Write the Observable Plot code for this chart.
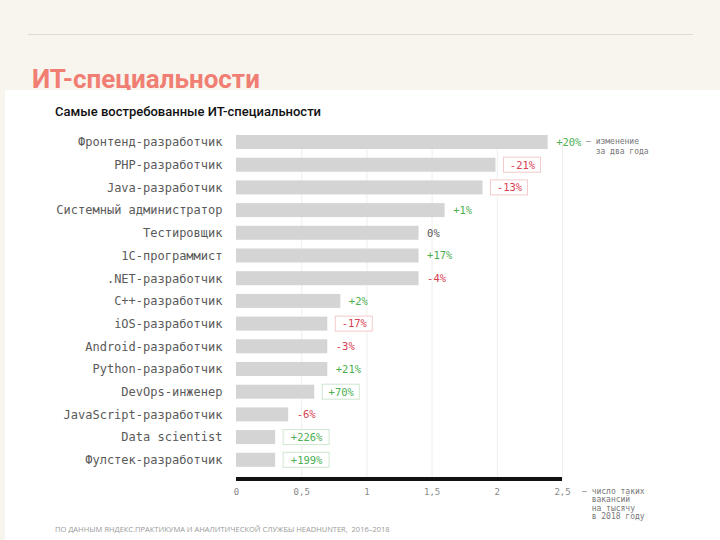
<!DOCTYPE html>
<html><head><meta charset="utf-8">
<script src="https://cdn.jsdelivr.net/npm/d3@7"></script>
<script src="https://cdn.jsdelivr.net/npm/@observablehq/plot@0.6"></script>
<style>
body{margin:0;}
#page{position:relative;width:720px;height:540px;background:#f8f5ef;overflow:hidden;font-family:Roboto, sans-serif;}
#rule{position:absolute;left:28px;top:34px;width:665px;height:1px;background:#dedbd5;}
#title{position:absolute;left:32px;top:66px;font:700 26px/26px Roboto;color:#f07e73;white-space:nowrap;}
#panel{position:absolute;left:5px;top:90px;width:715px;height:450px;background:#fff;}
#chart{position:absolute;left:0;top:90px;}
#subtitle{position:absolute;left:55px;top:105px;font:500 13px/13px Roboto;color:#111;white-space:nowrap;}
.note{position:absolute;font:8px "DejaVu Sans Mono", monospace;color:#777;white-space:pre;}
#footer{position:absolute;left:55px;top:524px;font:7.5px/10px "Open Sans";color:#999;white-space:nowrap;}
</style>
</head><body>
<div id="page">
  <div id="rule"></div>
  <div id="title">ИТ-специальности</div>
  <div id="panel"></div>
  <div id="chart"></div>
  <div id="subtitle">Самые востребованные ИТ-специальности</div>
  <div class="note" style="left:586px;top:137px;line-height:10px;">– изменение
  за два года</div>
  <div class="note" style="left:582px;top:488px;line-height:8.3px;">– число таких
  вакансий
  на тысячу
  в 2018 году</div>
  <div id="footer">ПО ДАННЫМ ЯНДЕКС.ПРАКТИКУМА И АНАЛИТИЧЕСКОЙ СЛУЖБЫ HEADHUNTER,&nbsp; 2016–2018</div>
</div>
<script>
const names = ["Фронтенд-разработчик","PHP-разработчик","Java-разработчик","Системный администратор","Тестировщик","1С-программист",".NET-разработчик","C++-разработчик","iOS-разработчик","Android-разработчик","Python-разработчик","DevOps-инженер","JavaScript-разработчик","Data scientist","Фулстек-разработчик"];
const values = [2.39, 1.99, 1.89, 1.6, 1.4, 1.4, 1.4, 0.8, 0.7, 0.7, 0.7, 0.6, 0.4, 0.3, 0.3];
const changes = [20, -21, -13, 1, 0, 17, -4, 2, -17, -3, 21, 70, -6, 226, 199];
const boxedNames = ["PHP-разработчик","Java-разработчик","iOS-разработчик","DevOps-инженер","Data scientist","Фулстек-разработчик"];
const xTicks = [0, 0.5, 1, 1.5, 2, 2.5];
const gridTicks = [0.5, 1, 1.5, 2, 2.5];
const axisSpan = [{x1: 0, x2: 2.5}];

const rows = names.map((name, i) => ({name, value: values[i], change: changes[i], boxed: boxedNames.includes(name)}));
const fmt = d => (d > 0 ? "+" : "") + d + "%";
const label = d => fmt(d.change);
const col = d => d.change > 0 ? "#4caf50" : d.change < 0 ? "#d9404f" : "#555555";
const boxCol = d => d.change > 0 ? "#cfe6cf" : "#f3caca";
const mono = "DejaVu Sans Mono, monospace";

const plain = rows.filter(d => !d.boxed);
const box4 = rows.filter(d => d.boxed && label(d).length === 4);
const box5 = rows.filter(d => d.boxed && label(d).length === 5);

const chart = Plot.plot({
  width: 720,
  height: 450,
  marginLeft: 236,
  marginRight: 158,
  marginTop: 45,
  marginBottom: 59,
  style: {background: "transparent", overflow: "visible"},
  x: {domain: [0, 2.5]},
  y: {domain: names, range: [45, 376.8], paddingInner: 0.383, paddingOuter: 0, round: false},
  color: {type: "identity"},
  marks: [
    Plot.ruleX(gridTicks, {x: d => d, stroke: "#eeeeee", strokeWidth: 1}),
    Plot.barX(rows, {x: "value", y: "name", fill: "#d4d4d4"}),
    Plot.rect(box4, {x1: "value", x2: "value", y: "name", insetLeft: 8, insetRight: -45, insetTop: -0.5, insetBottom: -0.5, fill: "white", stroke: boxCol}),
    Plot.rect(box5, {x1: "value", x2: "value", y: "name", insetLeft: 8, insetRight: -54, insetTop: -0.5, insetBottom: -0.5, fill: "white", stroke: boxCol}),
    Plot.text(plain, {x: "value", y: "name", text: label, dx: 8, textAnchor: "start", fill: col, fontSize: 10.5, fontFamily: mono}),
    Plot.text(box4, {x: "value", y: "name", text: label, dx: 26.5, textAnchor: "middle", fill: col, fontSize: 10.5, fontFamily: mono}),
    Plot.text(box5, {x: "value", y: "name", text: label, dx: 31, textAnchor: "middle", fill: col, fontSize: 10.5, fontFamily: mono}),
    Plot.rect(axisSpan, {x1: "x1", x2: "x2", insetTop: 342, fill: "#111"}),
    Plot.axisY({tickSize: 0, tickPadding: 14, fontSize: 12, fill: "#5a5a5a", fontFamily: mono, label: null}),
    Plot.axisX({ticks: xTicks, tickFormat: d => String(d).replace(".", ","), tickSize: 0, tickPadding: 7, fontSize: 9, fill: "#888", fontFamily: mono, label: null})
  ]
});
document.getElementById("chart").appendChild(chart);
</script>
</body></html>
